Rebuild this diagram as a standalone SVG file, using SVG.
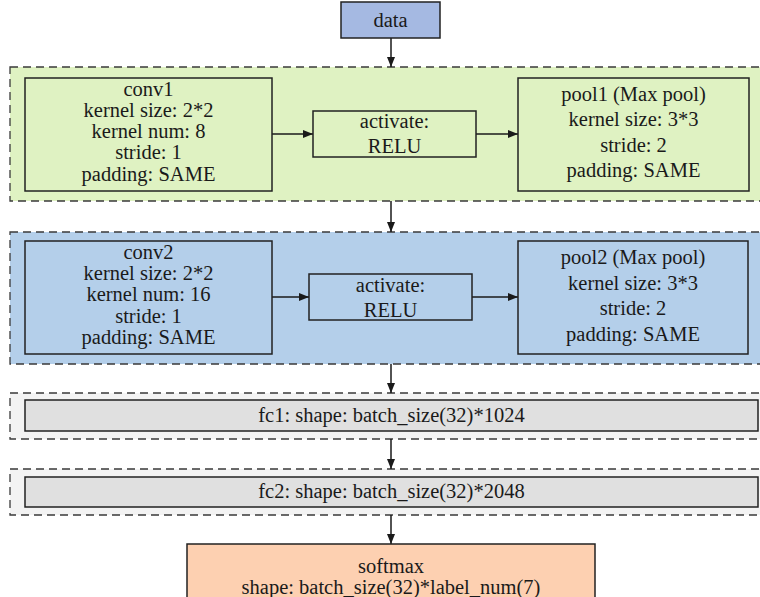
<svg xmlns="http://www.w3.org/2000/svg" width="760" height="597" viewBox="0 0 760 597" font-family="Liberation Serif, Times New Roman, serif">
<defs>
<marker id="arr" viewBox="0 0 10 10" refX="10" refY="5" markerWidth="10" markerHeight="10" markerUnits="userSpaceOnUse" orient="auto"><path d="M0,1 L10,5 L0,9 z" fill="#1a1a1a"/></marker>
<style>
text{font-size:20.5px;fill:#1a1a1a;text-anchor:middle}
.grp{stroke:#3a3a3a;stroke-width:1.3;stroke-dasharray:8 5}
.box{stroke:#222;stroke-width:1.5}
.g1{fill:#dff2c2}
.g2{fill:#b4cfea}
.g3{fill:#f3f3f3}
.fc{fill:#e0e0e0}
.con{stroke:#1a1a1a;stroke-width:1.5;fill:none;marker-end:url(#arr)}
</style>
</defs>
<g id="group1"><rect class="grp g1" x="10" y="67" width="760" height="134"/></g>
<g id="group2"><rect class="grp g2" x="10" y="232" width="760" height="132"/></g>
<g id="group3"><rect class="grp g3" x="10" y="393" width="760" height="46"/></g>
<g id="group4"><rect class="grp g3" x="10" y="469" width="760" height="46"/></g>
<g id="connectors">
<line class="con" x1="391" y1="38" x2="391" y2="67"/>
<line class="con" x1="272" y1="134" x2="313" y2="134"/>
<line class="con" x1="476" y1="134" x2="518" y2="134"/>
<line class="con" x1="391" y1="201" x2="391" y2="232"/>
<line class="con" x1="272" y1="297" x2="309" y2="297"/>
<line class="con" x1="472" y1="297" x2="518" y2="297"/>
<line class="con" x1="391" y1="364" x2="391" y2="393"/>
<line class="con" x1="391" y1="439" x2="391" y2="469"/>
<line class="con" x1="391" y1="515" x2="391" y2="544"/>
</g>
<g id="data"><rect class="box" x="341" y="2" width="99" height="36" fill="#a5b9e2"/><text x="390.5" y="27">data</text></g>
<g id="conv1"><rect class="box g1" x="25" y="78" width="247" height="113"/>
<text x="148.5" y="96">conv1</text><text x="148.5" y="117">kernel size: 2*2</text><text x="148.5" y="138">kernel num: 8</text><text x="148.5" y="159">stride: 1</text><text x="148.5" y="181">padding: SAME</text></g>
<g id="activate1"><rect class="box g1" x="313" y="111" width="163" height="46"/>
<text x="394.5" y="128">activate:</text><text x="394.5" y="153">RELU</text></g>
<g id="pool1"><rect class="box g1" x="518" y="78" width="231" height="113"/>
<text x="633.5" y="101">pool1 (Max pool)</text><text x="633.5" y="126">kernel size: 3*3</text><text x="633.5" y="152">stride: 2</text><text x="633.5" y="177">padding: SAME</text></g>
<g id="conv2"><rect class="box g2" x="25" y="241" width="247" height="113"/>
<text x="148.5" y="259">conv2</text><text x="148.5" y="280">kernel size: 2*2</text><text x="148.5" y="301">kernel num: 16</text><text x="148.5" y="322.5">stride: 1</text><text x="148.5" y="344">padding: SAME</text></g>
<g id="activate2"><rect class="box g2" x="309" y="274" width="163" height="46"/>
<text x="390.5" y="292">activate:</text><text x="390.5" y="317">RELU</text></g>
<g id="pool2"><rect class="box g2" x="518" y="241" width="230" height="113"/>
<text x="633" y="263.5">pool2 (Max pool)</text><text x="633" y="289.5">kernel size: 3*3</text><text x="633" y="315">stride: 2</text><text x="633" y="341">padding: SAME</text></g>
<g id="fc1"><rect class="box fc" x="25" y="400" width="733" height="31"/><text x="391.5" y="422">fc1: shape: batch_size(32)*1024</text></g>
<g id="fc2"><rect class="box fc" x="25" y="477" width="733" height="30"/><text x="391.5" y="498">fc2: shape: batch_size(32)*2048</text></g>
<g id="softmax"><rect class="box" x="187" y="544" width="408" height="55" fill="#fdd0b1"/>
<text x="391" y="572.5">softmax</text><text x="391" y="593.5">shape: batch_size(32)*label_num(7)</text></g>
</svg>
